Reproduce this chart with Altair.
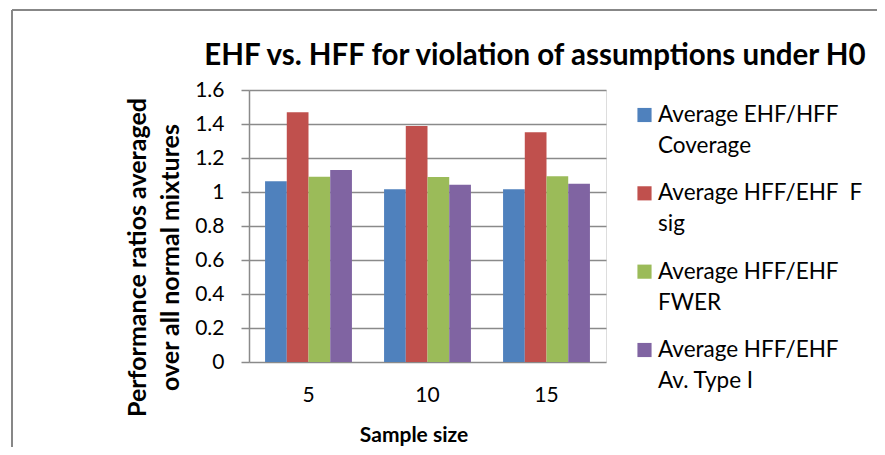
import altair as alt
import pandas as pd

sample_sizes = ["5", "10", "15"]
series = [
    "Average EHF/HFF Coverage",
    "Average HFF/EHF  F sig",
    "Average HFF/EHF FWER",
    "Average HFF/EHF Av. Type I",
]
legend_line1 = ["Average EHF/HFF", "Average HFF/EHF\u00a0\u00a0F", "Average HFF/EHF", "Average HFF/EHF"]
legend_line2 = ["Coverage", "sig", "FWER", "Av. Type I"]
colors = ["#4F81BD", "#C0504D", "#9BBB59", "#8064A2"]

coverage = [1.063, 1.016, 1.016]
f_sig = [1.469, 1.388, 1.351]
fwer = [1.090, 1.088, 1.092]
type1 = [1.129, 1.043, 1.049]

y_ticks = [0, 0.2, 0.4, 0.6, 0.8, 1, 1.2, 1.4, 1.6]
chart_title = "EHF vs. HFF for violation of assumptions under H0"
y_title = ["Performance ratios averaged", "over all normal mixtures"]
x_title = "Sample size"

rows = []
for s, vals in zip(series, [coverage, f_sig, fwer, type1]):
    for n, v in zip(sample_sizes, vals):
        rows.append({"size": n, "series": s, "value": v})
df = pd.DataFrame(rows)

legend_df = pd.DataFrame({"series": series, "line1": legend_line1, "line2": legend_line2})
title_df = pd.DataFrame({"t": [chart_title]})

FONT = "Lato"
GRID = "#8a8a8a"

bars = alt.Chart(df).mark_bar().encode(
    x=alt.X(
        "size:O",
        sort=sample_sizes,
        scale=alt.Scale(paddingInner=0.27, paddingOuter=0.135),
        axis=alt.Axis(
            title=x_title,
            labelAngle=0,
            ticks=False,
            domain=False,
            labelPadding=22,
            labelFontSize=21,
            labelFont=FONT,
            labelColor="black",
            titleFont=FONT,
            titleFontSize=21,
            titleFontWeight="bold",
            titleColor="black",
            titleX=164.5,
            titleY=79,
            titleBaseline="alphabetic",
            titleAlign="center",
        ),
    ),
    xOffset=alt.XOffset("series:N", sort=series, scale=alt.Scale(domain=series)),
    y=alt.Y(
        "value:Q",
        scale=alt.Scale(domain=[0, 1.6], nice=False),
        axis=alt.Axis(
            values=y_ticks,
            format="~g",
            title=y_title,
            grid=True,
            gridColor=GRID,
            gridWidth=1.5,
            domainColor=GRID,
            domainWidth=1.5,
            tickColor=GRID,
            tickWidth=1.5,
            tickSize=8,
            labelPadding=17,
            labelFontSize=21,
            labelFont=FONT,
            labelColor="black",
            titleFont=FONT,
            titleFontSize=25,
            titleFontWeight="bold",
            titleColor="black",
            titleAngle=270,
            titleX=-112,
            titleY=167,
            titleAlign="center",
            titleBaseline="middle",
            titleLineHeight=33,
        ),
    ),
    color=alt.Color("series:N", scale=alt.Scale(domain=series, range=colors), legend=None),
)

leg_y = alt.Y("series:N", sort=series, scale=alt.Scale(type="point", domain=series, range=[25, 260], padding=0), axis=None)

leg_sq = alt.Chart(legend_df).mark_square(size=200, opacity=1).encode(
    x=alt.value(395.5),
    y=leg_y,
    color=alt.Color("series:N", scale=alt.Scale(domain=series, range=colors), legend=None),
)
leg_t1 = alt.Chart(legend_df).mark_text(align="left", baseline="middle", fontSize=22.5, font=FONT, color="black").encode(
    x=alt.value(409), y=leg_y, text="line1:N"
)
leg_t2 = alt.Chart(legend_df).mark_text(align="left", baseline="middle", fontSize=22.5, font=FONT, color="black", dy=31).encode(
    x=alt.value(409), y=leg_y, text="line2:N"
)

title_mark = alt.Chart(title_df).mark_text(
    align="center", baseline="alphabetic", fontSize=29.5, fontWeight="bold", font=FONT, color="black"
).encode(x=alt.value(286), y=alt.value(-25), text="t:N")

border_left = alt.Chart(title_df).mark_rule(color="#878787", strokeWidth=2).encode(
    x=alt.value(-237), y=alt.value(-80), y2=alt.value(420)
)
border_top = alt.Chart(title_df).mark_rule(color="#878787", strokeWidth=2).encode(
    x=alt.value(-237), x2=alt.value(660), y=alt.value(-80)
)

chart = alt.layer(
    border_left, border_top, bars, leg_sq, leg_t1, leg_t2, title_mark
).resolve_scale(y="independent").properties(
    width=357,
    height=272,
    autosize=alt.AutoSizeParams(type="none"),
    padding={"left": 241, "top": 82, "right": 271, "bottom": 85},
).configure_view(stroke=None).configure(background="white")

chart.save("out.html", embed_options={"renderer": "svg", "actions": False})
